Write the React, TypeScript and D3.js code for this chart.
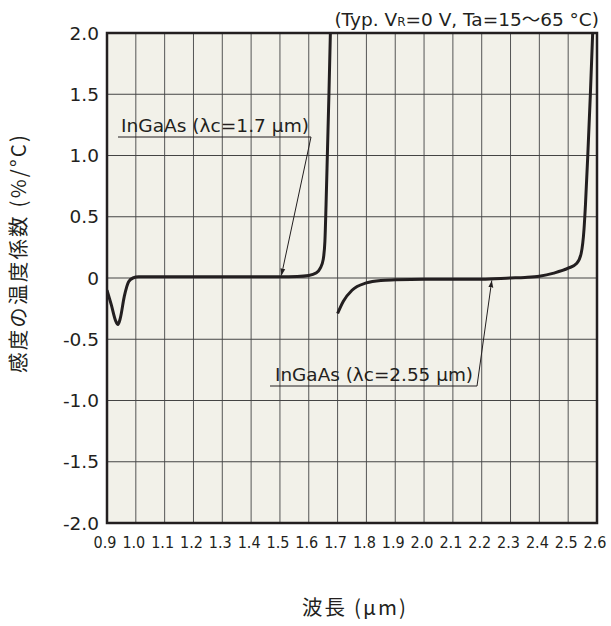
import React from "react";
import * as d3 from "d3";

// wavelength (um) vs temperature coefficient (%/°C)
const wl17 = [0.9, 0.915, 0.93, 0.938, 0.946, 0.96, 0.975, 0.99, 1.01, 1.1, 1.2, 1.3, 1.4, 1.5, 1.56, 1.6, 1.625, 1.64, 1.65, 1.656, 1.66, 1.665, 1.67, 1.675];
const tc17 = [-0.1, -0.22, -0.35, -0.38, -0.33, -0.15, -0.03, 0.0, 0.01, 0.01, 0.01, 0.01, 0.01, 0.01, 0.012, 0.02, 0.04, 0.08, 0.15, 0.3, 0.6, 1.05, 1.5, 2.0];

const wl255 = [1.7, 1.72, 1.75, 1.8, 1.85, 1.9, 2.0, 2.1, 2.2, 2.3, 2.35, 2.4, 2.45, 2.5, 2.53, 2.545, 2.555, 2.56, 2.568, 2.577, 2.585];
const tc255 = [-0.29, -0.19, -0.1, -0.04, -0.02, -0.015, -0.01, -0.01, -0.01, 0.0, 0.005, 0.015, 0.04, 0.08, 0.12, 0.2, 0.4, 0.6, 1.0, 1.5, 2.0];

const xTicks = d3.range(9, 27).map(v => v / 10);
const yTicks = [2.0, 1.5, 1.0, 0.5, 0, -0.5, -1.0, -1.5, -2.0];
const yTickLabels = ["2.0", "1.5", "1.0", "0.5", "0", "-0.5", "-1.0", "-1.5", "-2.0"];

const W = 611;
const H = 626;
const m = { left: 107, right: 597, top: 33, bottom: 523 };

export default function App() {
  const x = d3.scaleLinear().domain([0.9, 2.6]).range([m.left, m.right]);
  const y = d3.scaleLinear().domain([-2, 2]).range([m.bottom, m.top]);

  const line = d3
    .line<number>()
    .x(d => x(d[0]))
    .y(d => y(d[1]))
    .curve(d3.curveMonotoneX);

  const path17 = line(wl17.map((w, i) => [w, tc17[i]]) as any);
  const path255 = line(wl255.map((w, i) => [w, tc255[i]]) as any);

  const font = "'DejaVu Sans', Verdana, sans-serif";
  const ink = "#231f20";

  return (
    <svg width={W} height={H} style={{ position: "absolute", left: 0, top: 0 }}>
      <defs>
        <marker id="arr" viewBox="0 0 10 10" refX="10" refY="5" markerWidth="7" markerHeight="7" orient="auto" markerUnits="userSpaceOnUse">
          <path d="M0,1.5 L10,5 L0,8.5 Z" fill={ink} />
        </marker>
        <clipPath id="plot">
          <rect x={m.left} y={m.top} width={m.right - m.left} height={m.bottom - m.top} />
        </clipPath>
      </defs>
      <rect width={W} height={H} fill="#fff" />
      <rect x={m.left} y={m.top} width={m.right - m.left} height={m.bottom - m.top} fill="#f2f1e9" />
      {xTicks.map(t => (
        <line key={"gx" + t} x1={x(t)} x2={x(t)} y1={m.top} y2={m.bottom} stroke="#555" strokeWidth={1} />
      ))}
      {yTicks.map(t => (
        <line key={"gy" + t} x1={m.left} x2={m.right} y1={y(t)} y2={y(t)} stroke="#444" strokeWidth={1} />
      ))}
      <g clipPath="url(#plot)">
        <path d={path17 || ""} fill="none" stroke={ink} strokeWidth={3} strokeLinejoin="round" />
        <path d={path255 || ""} fill="none" stroke={ink} strokeWidth={3} strokeLinejoin="round" />
      </g>
      <rect x={m.left} y={m.top} width={m.right - m.left} height={m.bottom - m.top} fill="none" stroke={ink} strokeWidth={2.5} />

      {yTicks.map((t, i) => (
        <text key={"yl" + t} x={99} y={y(t) + 6.5} textAnchor="end" fontFamily={font} fontSize={18.5} fill={ink}>
          {yTickLabels[i]}
        </text>
      ))}
      {xTicks.map(t => (
        <text key={"xl" + t} x={x(t) - 2} y={548} textAnchor="middle" fontFamily="'DejaVu Sans Condensed', 'DejaVu Sans', sans-serif" fontStretch="condensed" fontSize={16} fill={ink}>
          {t.toFixed(1)}
        </text>
      ))}

      {/* annotation 1.7 um */}
      <text x={121} y={132} fontFamily={font} fontSize={18.5} textLength={188} lengthAdjust="spacingAndGlyphs" fill={ink}>InGaAs (λc=1.7 μm)</text>
      <polyline points={`118,137 311,137`} fill="none" stroke={ink} strokeWidth={1} />
      <line x1={311} y1={137} x2={x(1.505)} y2={y(0.02)} stroke={ink} strokeWidth={1} markerEnd="url(#arr)" />

      {/* annotation 2.55 um */}
      <text x={275} y={381} fontFamily={font} fontSize={18.5} textLength={198} lengthAdjust="spacingAndGlyphs" fill={ink}>InGaAs (λc=2.55 μm)</text>
      <polyline points={`270,386 477,386`} fill="none" stroke={ink} strokeWidth={1} />
      <line x1={477} y1={386} x2={x(2.235)} y2={y(-0.02)} stroke={ink} strokeWidth={1} markerEnd="url(#arr)" />

      <text x={599} y={26} textAnchor="end" fontFamily={font} fontSize={18.5} fill={ink}>
        (Typ. V<tspan fontSize={12}>R</tspan>=0 V, Ta=15<tspan fontFamily="'Noto Sans CJK JP'">〜</tspan>65 °C)
      </text>

      <text transform="translate(19,254) rotate(-90)" textAnchor="middle" fontFamily="'Noto Sans CJK JP', sans-serif" fontWeight={400} fontSize={20.5} textLength={238} lengthAdjust="spacing" fill={ink} y={7}>
        感度の温度係数 (%/°C)
      </text>
      <text x={354} y={615} textAnchor="middle" fontFamily="'Noto Sans CJK JP', sans-serif" fontWeight={400} fontSize={20.5} textLength={104} lengthAdjust="spacing" fill={ink}>
        波長 (μm)
      </text>
    </svg>
  );
}
